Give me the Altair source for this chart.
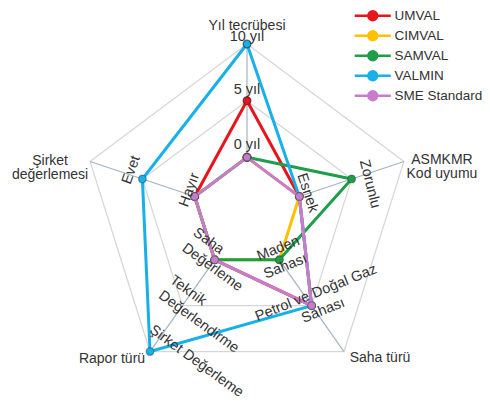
import math
import altair as alt
import pandas as pd

# ---------------- data ----------------
axis_titles = ["Yıl tecrübesi", "ASMKMR\nKod uyumu", "Saha türü", "Rapor türü", "Şirket\ndeğerlemesi"]
axis_dirs = [90, 18, -54, -126, 162]          # direction of each spoke (degrees)
n_levels = 3

cat_axis = [0, 0, 0, 1, 1, 2, 2, 3, 3, 3, 4, 4]
cat_level = [1, 2, 3, 1, 2, 1, 2, 1, 2, 3, 1, 2]
cat_text = ["0 yıl", "5 yıl", "10 yıl", "Esnek", "Zorunlu",
            "Maden\nSahası", "Petrol ve Doğal Gaz\nSahası",
            "Saha\nDeğerleme", "Teknik\nDeğerlendirme", "Şirket Değerleme",
            "Hayır", "Evet"]

series = ["UMVAL", "CIMVAL", "SAMVAL", "VALMIN", "SME Standard"]
umval = [2, 1, 2, 1, 1]
cimval = [1, 1, 1, 1, 1]
samval = [1, 2, 1, 1, 1]
valmin = [3, 1, 2, 3, 2]
sme = [1, 1, 2, 1, 1]
series_values = [umval, cimval, samval, valmin, sme]

# ---------------- styles ----------------
colors = ["#e8141c", "#ffc000", "#1e9e48", "#18b0e8", "#c77dcc"]
FONT = "Liberation Sans"
TXT = "#333333"
W, H = 474, 396
RX, RY = 165.0, 170.0
CX, CY = 239.0, 206.0
x_dom = [-CX / RX, (W - CX) / RX]
y_dom = [-(H - CY) / RY, CY / RY]

# pixel offsets (dx, dy) of the first text line, rotation, alignment
cat_style = {
    "0 yıl": (0, -12, 0, "center"),
    "5 yıl": (0, -11, 0, "center"),
    "10 yıl": (0, -7, 0, "center"),
    "Esnek": (8, -3.5, 72, "center"),
    "Zorunlu": (18, 5, 76, "center"),
    "Maden\nSahası": (-1, -11, 338, "center"),
    "Petrol ve Doğal Gaz\nSahası": (4.5, -12.5, 338, "center"),
    "Saha\nDeğerleme": (-20, -28.5, 36, "left"),
    "Teknik\nDeğerlendirme": (-11, -27, 36, "left"),
    "Şirket Değerleme": (1, -23, 36, "left"),
    "Hayır": (-5, -6.5, 290, "center"),
    "Evet": (-11, -9, 290, "center"),
}
title_style = [(0, -18), (38, -1.5), (36, 6.5), (-38, 7.5), (-40, -0.5)]


def polar(i, level):
    a = math.radians(axis_dirs[i])
    r = level / n_levels
    return r * math.cos(a), r * math.sin(a)


xs = alt.Scale(domain=x_dom, nice=False, zero=False)
ys = alt.Scale(domain=y_dom, nice=False, zero=False)
X = lambda f="x": alt.X(f"{f}:Q", scale=xs, axis=None)
Y = lambda f="y": alt.Y(f"{f}:Q", scale=ys, axis=None)

# grid pentagons
grid_rows = []
for L in range(1, n_levels + 1):
    for k in range(6):
        x, y = polar(k % 5, L)
        grid_rows.append({"lvl": L, "k": k, "x": x, "y": y})
grid_df = pd.DataFrame(grid_rows)
grid = alt.Chart(grid_df).mark_line(stroke="#d6d6d6", strokeWidth=1.2).encode(
    x=X(), y=Y(), detail="lvl:N", order="k:Q")

# spokes
spoke_rows = []
for i in range(5):
    x1, y1 = polar(i, 1)
    x2, y2 = polar(i, n_levels)
    spoke_rows.append({"x": x1, "y": y1, "x2": x2, "y2": y2})
spokes = alt.Chart(pd.DataFrame(spoke_rows)).mark_rule(stroke="#a3b4c2", strokeWidth=1.2).encode(
    x=X(), y=Y(), x2="x2:Q", y2="y2:Q")

# series
rows = []
for s, vals in zip(series, series_values):
    for k in range(6):
        x, y = polar(k % 5, vals[k % 5])
        rows.append({"series": s, "k": k, "x": x, "y": y})
sdf = pd.DataFrame(rows)

legend = alt.Legend(
    title=None, orient="none", legendX=358, legendY=1,
    symbolType="M -4.5 0 L -1.1 0 M 1.1 0 L 4.5 0 M 1.1 0 A 1.1 1.1 0 1 1 -1.1 0 A 1.1 1.1 0 1 1 1.1 0 Z",
    symbolSize=64, symbolStrokeWidth=2.5, labelFontSize=13.5, labelFont=FONT,
    labelColor=TXT, labelOffset=15, rowPadding=0, padding=0, labelLimit=200)

sc = alt.Scale(domain=series, range=colors)
series_layers = []
for s in series:
    base = alt.Chart(sdf).transform_filter(alt.datum.series == s)
    series_layers.append(base.mark_line(strokeWidth=3).encode(
        x=X(), y=Y(), order="k:Q", stroke=alt.Stroke("series:N", scale=sc, legend=legend)))
    series_layers.append(base.mark_point(filled=True, size=60, opacity=1).encode(
        x=X(), y=Y(), fill=alt.Fill("series:N", scale=sc, legend=legend)))
    series_layers.append(base.mark_point(filled=False, size=60, stroke="#333333",
                                         strokeOpacity=0.55, strokeWidth=1.2).encode(x=X(), y=Y()))

# category labels
crow = []
for a, l, t in zip(cat_axis, cat_level, cat_text):
    x, y = polar(a, l)
    dx, dy, ang, al = cat_style[t]
    crow.append({"x": x + dx / RX, "y": y - dy / RY, "t": t, "ang": ang, "al": al})
cdf = pd.DataFrame(crow)
cat_layers = []
for al in ["center", "left"]:
    cat_layers.append(alt.Chart(cdf).transform_filter(alt.datum.al == al).mark_text(
        align=al, baseline="middle", fontSize=14.5, font=FONT, color=TXT,
        lineBreak="\n", lineHeight=19).encode(
        x=X(), y=Y(), text="t:N", angle=alt.Angle("ang:Q", scale=None)))

# axis titles
trow = []
for i, t in enumerate(axis_titles):
    x, y = polar(i, n_levels)
    dx, dy = title_style[i]
    trow.append({"x": x + dx / RX, "y": y - dy / RY, "t": t})
titles = alt.Chart(pd.DataFrame(trow)).mark_text(
    align="center", baseline="middle", fontSize=14, font=FONT, color=TXT,
    lineBreak="\n", lineHeight=14.5).encode(x=X(), y=Y(), text="t:N")

chart = alt.layer(grid, spokes, *series_layers, *cat_layers, titles).properties(
    width=W, height=H, padding=0, autosize=alt.AutoSizeParams(type="none"),
    background="white").configure_view(stroke=None)

chart.save("out.html", embed_options={"renderer": "svg", "actions": False})
